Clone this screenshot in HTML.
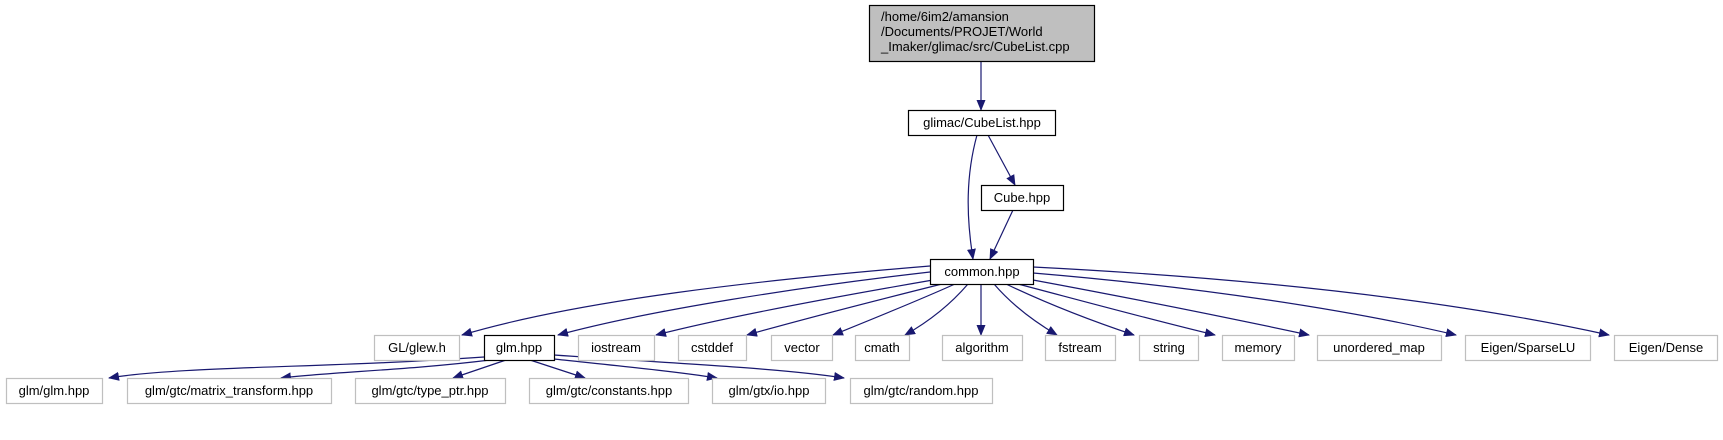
<!DOCTYPE html>
<html><head><meta charset="utf-8"><style>
html,body{margin:0;padding:0;background:#fff;}
svg{display:block;}
text{font-family:"Liberation Sans",sans-serif;font-size:13px;fill:#000;}
</style></head><body>
<svg width="1723" height="440" viewBox="0 0 1723 440" xmlns="http://www.w3.org/2000/svg">
<defs>
<marker id="a" markerWidth="11" markerHeight="9" refX="10" refY="4.5" orient="auto" markerUnits="userSpaceOnUse">
<path d="M0,0 L11,4.5 L0,9 Z" fill="#191970"/>
</marker>
</defs>
<g fill="none" stroke="#191970" stroke-width="1.2" marker-end="url(#a)">
<path d="M981,61 L981,110"/>
<path d="M977,135 C966,175 966,215 973,259"/>
<path d="M988,135 L1015,185"/>
<path d="M1013,210 L990,259"/>
<!-- common to row2 -->
<path d="M930,266 C760,280 580,300 462,335"/>
<path d="M930,272 C800,287 650,310 558,335"/>
<path d="M933,280 C840,296 730,316 656,335"/>
<path d="M942,284 C870,302 800,320 747,335"/>
<path d="M955,284 C915,302 870,320 833,335"/>
<path d="M968,284 C950,305 928,322 905,335"/>
<path d="M981,284 L981,335"/>
<path d="M994,284 C1012,305 1035,322 1057,335"/>
<path d="M1006,284 C1050,305 1095,322 1134,335"/>
<path d="M1018,284 C1090,303 1160,322 1215,335"/>
<path d="M1033,280 C1130,298 1230,318 1309,335"/>
<path d="M1033,273 C1200,287 1350,310 1456,335"/>
<path d="M1033,267 C1250,278 1450,300 1609,335"/>
<!-- glm to row3 -->
<path d="M484,357 C330,368 180,366 109,378"/>
<path d="M490,360 C410,370 330,372 281,378"/>
<path d="M506,360 L453,378"/>
<path d="M530,360 L585,378"/>
<path d="M554,359 C620,366 680,372 717,378"/>
<path d="M554,355 C680,364 780,368 844,378"/>
</g>
<g stroke-width="1.2">
<rect x="869.5" y="5.5" width="225" height="56" fill="#bfbfbf" stroke="#000"/>
<rect x="908.5" y="110.5" width="147" height="25" fill="#fff" stroke="#000"/>
<rect x="981.5" y="185.5" width="82" height="25" fill="#fff" stroke="#000"/>
<rect x="930.5" y="259.5" width="103" height="25" fill="#fff" stroke="#000"/>
<rect x="484.5" y="335.5" width="70" height="25" fill="#fff" stroke="#000"/>
</g>
<g fill="#fff" stroke="#bfbfbf" stroke-width="1.2">
<rect x="374.5" y="335.5" width="85" height="25"/>
<rect x="578.5" y="335.5" width="76" height="25"/>
<rect x="678.5" y="335.5" width="68" height="25"/>
<rect x="771.5" y="335.5" width="61" height="25"/>
<rect x="855.5" y="335.5" width="54" height="25"/>
<rect x="942.5" y="335.5" width="80" height="25"/>
<rect x="1045.5" y="335.5" width="70" height="25"/>
<rect x="1139.5" y="335.5" width="59" height="25"/>
<rect x="1222.5" y="335.5" width="72" height="25"/>
<rect x="1317.5" y="335.5" width="124" height="25"/>
<rect x="1465.5" y="335.5" width="125" height="25"/>
<rect x="1614.5" y="335.5" width="103" height="25"/>
<rect x="6.5" y="378.5" width="96" height="25"/>
<rect x="127.5" y="378.5" width="204" height="25"/>
<rect x="355.5" y="378.5" width="150" height="25"/>
<rect x="529.5" y="378.5" width="159" height="25"/>
<rect x="712.5" y="378.5" width="113" height="25"/>
<rect x="850.5" y="378.5" width="142" height="25"/>
</g>
<text x="881" y="21">/home/6im2/amansion</text>
<text x="881" y="36">/Documents/PROJET/World</text>
<text x="881" y="51">_Imaker/glimac/src/CubeList.cpp</text>
<g text-anchor="middle">
<text x="982" y="127">glimac/CubeList.hpp</text>
<text x="1022" y="202">Cube.hpp</text>
<text x="982" y="276">common.hpp</text>
<text x="417" y="352">GL/glew.h</text>
<text x="519" y="352">glm.hpp</text>
<text x="616" y="352">iostream</text>
<text x="712" y="352">cstddef</text>
<text x="802" y="352">vector</text>
<text x="882" y="352">cmath</text>
<text x="982" y="352">algorithm</text>
<text x="1080" y="352">fstream</text>
<text x="1169" y="352">string</text>
<text x="1258" y="352">memory</text>
<text x="1379" y="352">unordered_map</text>
<text x="1528" y="352">Eigen/SparseLU</text>
<text x="1666" y="352">Eigen/Dense</text>
<text x="54" y="395">glm/glm.hpp</text>
<text x="229" y="395">glm/gtc/matrix_transform.hpp</text>
<text x="430" y="395">glm/gtc/type_ptr.hpp</text>
<text x="609" y="395">glm/gtc/constants.hpp</text>
<text x="769" y="395">glm/gtx/io.hpp</text>
<text x="921" y="395">glm/gtc/random.hpp</text>
</g>
</svg>
</body></html>
